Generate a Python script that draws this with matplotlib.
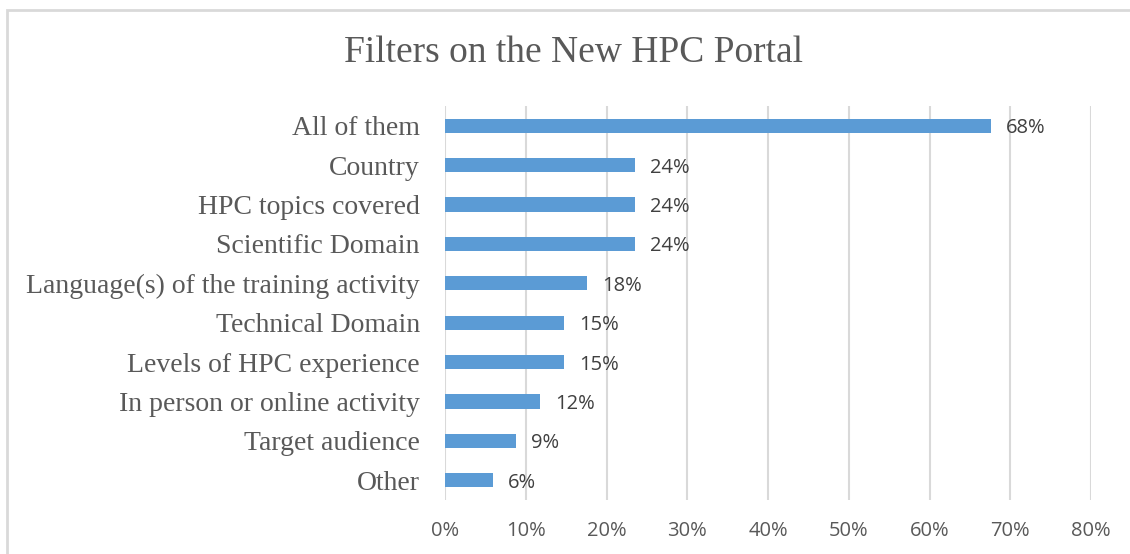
import matplotlib.pyplot as plt
from matplotlib.patches import Rectangle
from matplotlib.ticker import PercentFormatter

# survey answers (share of respondents, in %)
categories = ["All of them", "Country", "HPC topics covered", "Scientific Domain",
              "Language(s) of the training activity", "Technical Domain",
              "Levels of HPC experience", "In person or online activity",
              "Target audience", "Other"]
values = [67.6, 23.5, 23.5, 23.5, 17.6, 14.7, 14.7, 11.8, 8.8, 5.9]
labels = ["68%", "24%", "24%", "24%", "18%", "15%", "15%", "12%", "9%", "6%"]
xticks = [0, 10, 20, 30, 40, 50, 60, 70, 80]

bar_color = "#5B9BD5"
grid_color = "#D9D9D9"
text_color = "#595959"

fig = plt.figure(figsize=(11.3, 5.54), dpi=100)
ax = fig.add_axes([445 / 1130, 54 / 554, 646 / 1130, 394 / 554])

y = range(len(categories))
ax.barh(y, values, height=0.36, color=bar_color, zorder=3)
for i, (v, lab) in enumerate(zip(values, labels)):
    ax.annotate(lab, (v, i), xytext=(11, 0), textcoords="offset points",
                va="center_baseline", ha="left", fontsize=14.5, color="#404040",
                family="Open Sans")

ax.set_xlim(0, 80)
ax.set_ylim(len(categories) - 0.5, -0.5)
ax.set_xticks(xticks)
ax.xaxis.set_major_formatter(PercentFormatter(decimals=0))
ax.set_yticks(list(y))
ax.set_yticklabels(categories, family="Liberation Serif", fontsize=20, color=text_color)
for t in ax.get_xticklabels():
    t.set_family("Open Sans")
    t.set_fontsize(14.5)
    t.set_color(text_color)
ax.tick_params(axis="x", length=0, pad=15)
ax.tick_params(axis="y", length=0, pad=18)
ax.grid(axis="x", color=grid_color, linewidth=1.5, zorder=0)
for s in ax.spines.values():
    s.set_visible(False)

fig.text(0.5075, 1 - 53 / 554, "Filters on the New HPC Portal", ha="center", va="center",
         family="Liberation Serif", fontsize=27, color=text_color)

# chart frame (only left and top edges inside the picture)
fig.patches.append(Rectangle((7 / 1130, -0.1), 2, 1 - 10 / 554 + 0.1, transform=fig.transFigure,
                             fill=False, edgecolor=grid_color, linewidth=2))

fig.savefig("out.png", dpi=100)
